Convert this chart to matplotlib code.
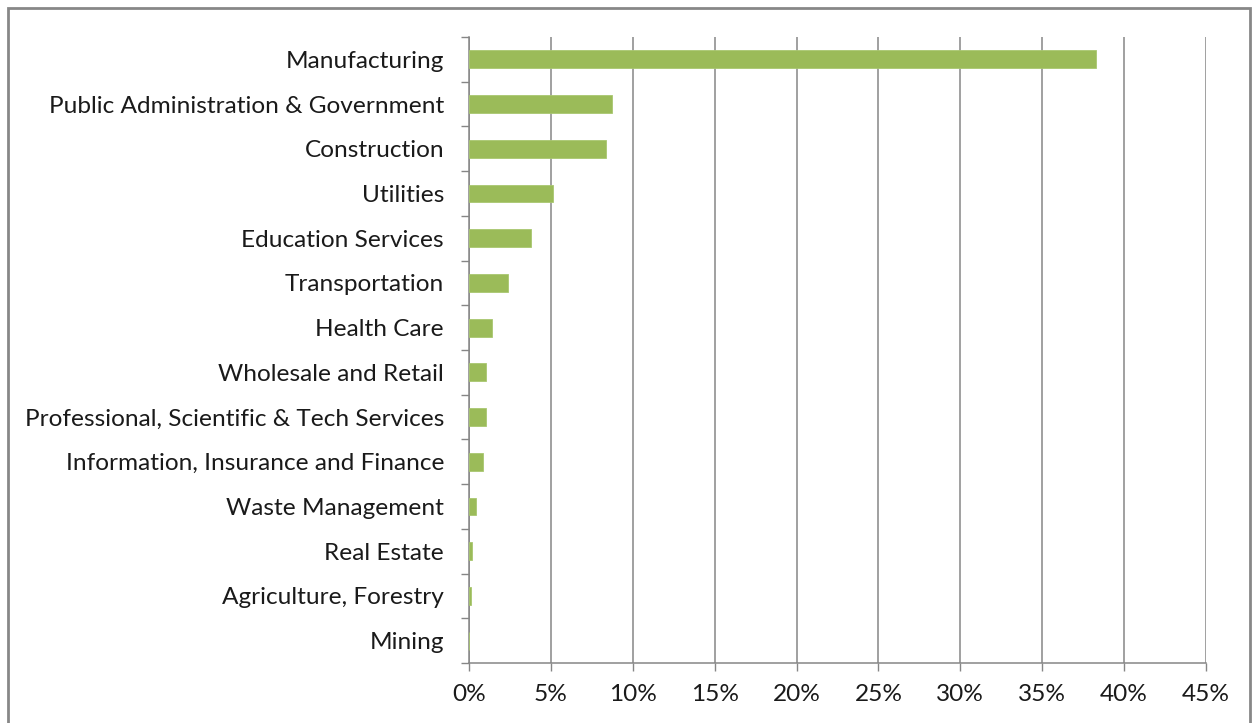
import matplotlib
matplotlib.use("Agg")
import matplotlib.pyplot as plt
from matplotlib.patches import Rectangle
from matplotlib.ticker import FuncFormatter, MultipleLocator

industries = [
    "Manufacturing",
    "Public Administration & Government",
    "Construction",
    "Utilities",
    "Education Services",
    "Transportation",
    "Health Care",
    "Wholesale and Retail",
    "Professional, Scientific & Tech Services",
    "Information, Insurance and Finance",
    "Waste Management",
    "Real Estate",
    "Agriculture, Forestry",
    "Mining",
]
shares = [38.3, 8.75, 8.36, 5.1, 3.77, 2.36, 1.42, 1.02, 1.02, 0.87, 0.41, 0.16, 0.10, 0.0]

plt.rcParams["font.family"] = ["Lato", "DejaVu Sans"]

fig = plt.figure(figsize=(12.58, 7.23), dpi=100)
ax = fig.add_axes([469 / 1258, 60 / 723, (1206 - 469) / 1258, (663 - 37) / 723])

grey = "#868686"
positions = list(range(len(industries)))
ax.barh(positions, shares, height=0.4, color="#9BBB59", edgecolor="#A9C770",
        linewidth=0.6, zorder=3)

ax.set_ylim(len(industries) - 0.5, -0.5)
ax.set_yticks(positions)
ax.set_yticklabels(industries)
ax.set_yticks([p + 0.5 for p in range(-1, len(industries))], minor=True)
ax.tick_params(axis="y", which="major", length=0, pad=18, labelsize=17.6, labelcolor="#1a1a1a")
ax.tick_params(axis="y", which="minor", length=6, width=1, color=grey, direction="out")

ax.set_xlim(0, 45)
ax.xaxis.set_major_locator(MultipleLocator(5))
ax.xaxis.set_major_formatter(FuncFormatter(lambda v, _: f"{v:.0f}%"))
ax.tick_params(axis="x", length=6, width=1, color=grey, pad=9, labelsize=17.6,
               labelcolor="#1a1a1a", direction="out")
ax.grid(axis="x", color=grey, linewidth=1.1, zorder=0)
ax.set_axisbelow(True)

for side in ("top", "right"):
    ax.spines[side].set_visible(False)
for side in ("left", "bottom"):
    ax.spines[side].set_color(grey)
    ax.spines[side].set_linewidth(1.1)

# chart-area frame
fig.patches.append(Rectangle((8 / 1258, -0.05), (1250 - 8) / 1258, 1 - 8 / 723 + 0.05,
                             transform=fig.transFigure, fill=False,
                             edgecolor="#878787", linewidth=2))

fig.savefig("out.png", dpi=100)
